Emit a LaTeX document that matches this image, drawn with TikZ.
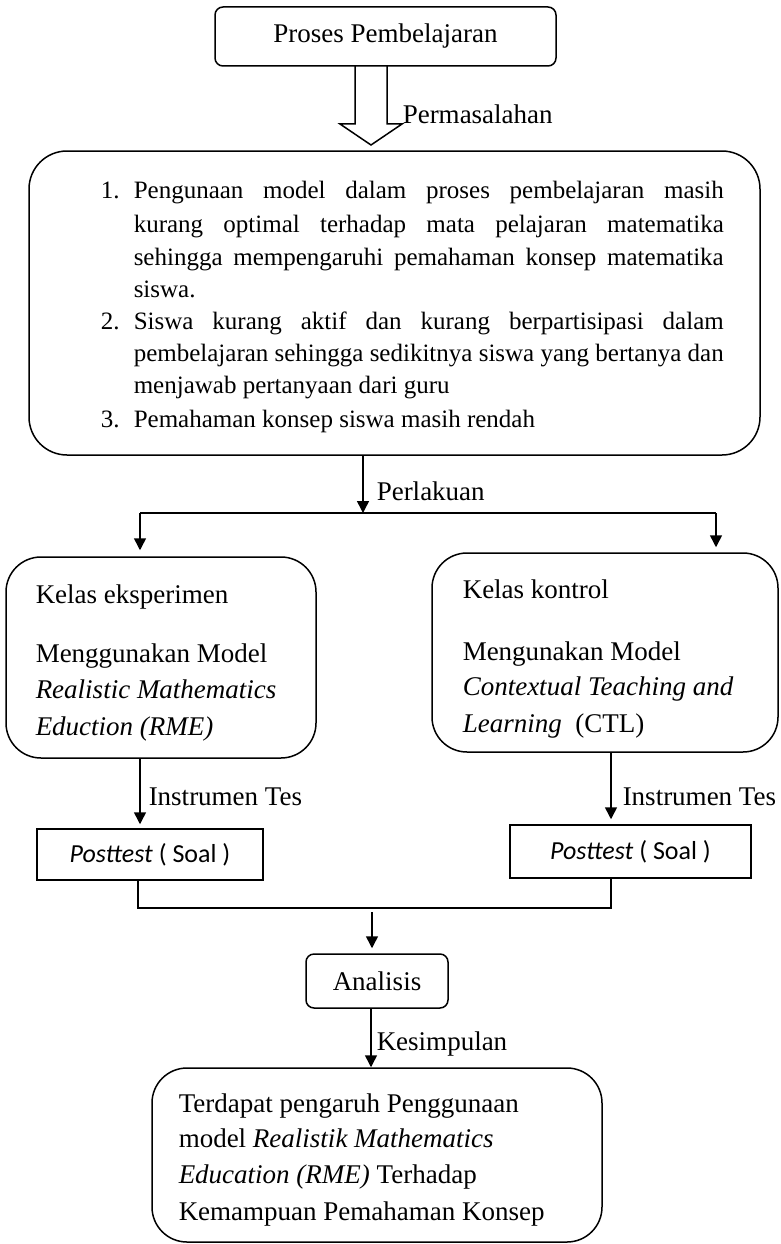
\documentclass[tikz,border=0pt]{standalone}
\usepackage{fontspec}
\setmainfont{Liberation Serif}
\newfontfamily\calib{Carlito}
\usetikzlibrary{arrows.meta,calc}
\begin{document}
\begin{tikzpicture}[x=1pt,y=-1pt,line width=1.5pt,
  rbox/.style={draw,line width=1.5pt,inner sep=0pt,font=\fontsize{27}{33}\selectfont},
  txt/.style={inner sep=0pt,anchor=base west,font=\fontsize{27}{33}\selectfont},
  itm/.style={inner sep=0pt,anchor=base west,font=\fontsize{25}{33}\selectfont},
  ptxt/.style={rbox,font=\calib\fontsize{26}{30}\selectfont},
  arr/.style={-{Triangle[length=12pt,width=12pt]},line width=1.5pt}]
\useasboundingbox (0,0) rectangle (780,1244);

% top box
\node[rbox,rounded corners=8pt,minimum width=341pt,minimum height=59pt] (proses) at (385.5,36.5) {Proses Pembelajaran};

% hollow arrow
\coordinate (hollowtop) at (371,66);
\coordinate (hollowtip) at (371,145);
\draw (hollowtop) ++(-16,0) -- ++(0,58) -- ++(-15,0) -- (hollowtip) -- ++(31,-21) -- ++(-15,0) -- ++(0,-58);
\node[txt] (permasalahan) at (402,124) {Permasalahan};

% big problem box
\node[rbox,rounded corners=38pt,minimum width=731pt,minimum height=304pt] (masalah) at (394.5,303) {};
\node[itm] (n1) at (100,198) {1.};
\node[itm] (l1) at (133,198) {\makebox[590pt][s]{Pengunaan model dalam proses pembelajaran masih}};
\node[itm] (l2) at (133,232) {\makebox[590pt][s]{kurang optimal terhadap mata pelajaran matematika}};
\node[itm] (l3) at (133,265) {\makebox[590pt][s]{sehingga mempengaruhi pemahaman konsep matematika}};
\node[itm] (l4) at (133,297) {siswa.};
\node[itm] (n2) at (100,329) {2.};
\node[itm] (l5) at (133,329) {\makebox[590pt][s]{Siswa kurang aktif dan kurang berpartisipasi dalam}};
\node[itm] (l6) at (133,361) {\makebox[590pt][s]{pembelajaran sehingga sedikitnya siswa yang bertanya dan}};
\node[itm] (l7) at (133,393) {menjawab pertanyaan dari guru};
\node[itm] (n3) at (100,427) {3.};
\node[itm] (l8) at (133,427) {Pemahaman konsep siswa masih rendah};

% split
\coordinate (split) at (363,513);
\coordinate (sl) at (140,513);
\coordinate (sr) at (716,513);
\draw[arr] (masalah.south -| split) -- (split);
\node[txt] (perlakuan) at (376,500) {Perlakuan};
\draw (sl) -- (sr);

% class boxes
\node[rbox,rounded corners=35pt,minimum width=310pt,minimum height=201pt] (kiri) at (161,657.5) {};
\node[rbox,rounded corners=35pt,minimum width=346pt,minimum height=199pt] (kanan) at (605,652.5) {};
\draw[arr,shorten >=6pt] (sl) -- (sl |- kiri.north);
\draw[arr,shorten >=5pt] (sr) -- (sr |- kanan.north);

\node[txt] (k1) at (35,603) {Kelas eksperimen};
\node[txt] (k2) at (35,662) {Menggunakan Model};
\node[txt] (k3) at (35,698) {\textit{Realistic Mathematics}};
\node[txt] (k4) at (35,735) {\textit{Eduction (RME)}};

\node[txt] (r1) at (462,598) {Kelas kontrol};
\node[txt] (r2) at (462,660) {Mengunakan Model};
\node[txt] (r3) at (462,695) {\textit{Contextual Teaching and}};
\node[txt] (r4) at (462,732) {\textit{Learning}\ \ (CTL)};

% posttest boxes
\node[ptxt,minimum width=226pt,minimum height=51pt] (postL) at (150,854.5) {\textit{Posttest} ( Soal )};
\node[ptxt,minimum width=241pt,minimum height=53pt] (postR) at (630.5,851.5) {\textit{Posttest} ( Soal )};

\coordinate (ml) at (138,908);
\coordinate (mr) at (611,908);
\draw[arr,shorten >=4pt] (kiri.south -| sl) -- (postL.north -| sl);
\draw[arr,shorten >=5pt] (kanan.south -| mr) -- (postR.north -| mr);
\node[txt] (tesL) at (148,805) {Instrumen Tes};
\node[txt] (tesR) at (622,805) {Instrumen Tes};

\draw (postL.south -| ml) -- (ml) -- (mr) -- (postR.south -| mr);

% analisis
\node[rbox,rounded corners=8pt,minimum width=142pt,minimum height=54pt] (analisis) at (377,981) {Analisis};
\coordinate (mj) at (372,912);
\draw[arr,shorten >=5pt] (mj) -- (analisis.north -| mj);

% conclusion
\node[rbox,rounded corners=35pt,minimum width=450pt,minimum height=174pt] (hasil) at (377,1155) {};
\coordinate (kx) at (371,1000);
\draw[arr] (analisis.south -| kx) -- (hasil.north -| kx);
\node[txt] (kesimpulan) at (376,1050) {Kesimpulan};

\node[txt] (h1) at (178,1112) {Terdapat pengaruh Penggunaan};
\node[txt] (h2) at (178,1147) {model \textit{Realistik Mathematics}};
\node[txt] (h3) at (178,1183) {\textit{Education (RME)} Terhadap};
\node[txt] (h4) at (178,1220) {Kemampuan Pemahaman Konsep};
\end{tikzpicture}
\end{document}
